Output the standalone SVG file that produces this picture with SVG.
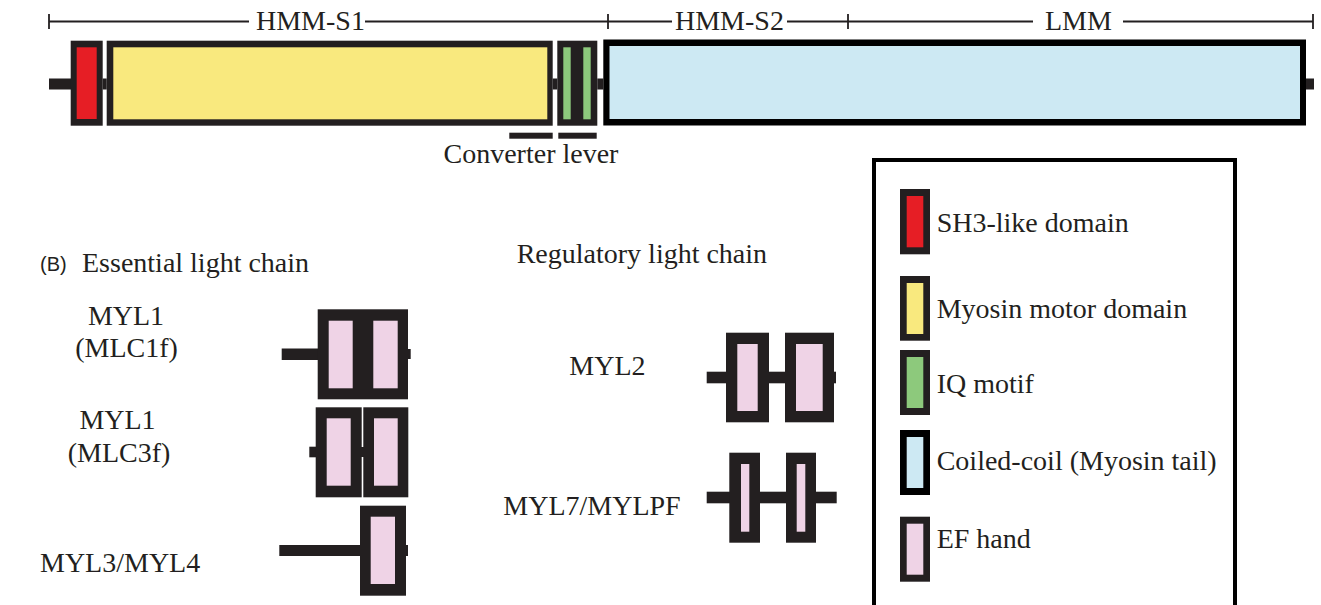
<svg xmlns="http://www.w3.org/2000/svg" width="1321" height="605" viewBox="0 0 1321 605">
<style>
.t{font-family:"Liberation Serif","Times New Roman",serif;font-size:28px;fill:#231f20}
.s{font-family:"Liberation Sans",Arial,sans-serif;font-size:20px;fill:#231f20}
.k{fill:#231f20}
.kb{fill:#000}
.red{fill:#e61e25}
.yel{fill:#f9e97e}
.grn{fill:#8dc97c}
.blu{fill:#cde9f3}
.pnk{fill:#efd3e6}
.sc{stroke:#231f20;stroke-width:1.8;fill:none}
</style>
<rect width="1321" height="605" fill="#fff"/>

<g id="scale">
  <path class="sc" d="M49,21.5H249M365,21.5H672M787,21.5H1033M1123,21.5H1313M49,14V29M608,14V29M848,14V29M1313,14V29"/>
  <text class="t" x="256" y="29.5">HMM-S1</text>
  <text class="t" x="675" y="29.5">HMM-S2</text>
  <text class="t" x="1045" y="29.5">LMM</text>
</g>

<g id="heavy-chain">
  <rect class="k" x="49" y="78.5" width="22" height="11"/>
  <g id="sh3">
    <rect class="k" x="70.7" y="40.7" width="32" height="85"/>
    <rect class="red" x="76.7" y="47.3" width="20" height="71.7"/>
  </g>
  <rect class="k" x="102.7" y="78.5" width="4" height="11"/>
  <g id="motor">
    <rect class="k" x="106.7" y="40.7" width="446" height="85"/>
    <rect class="yel" x="113.3" y="47.3" width="434" height="72"/>
  </g>
  <rect class="k" x="552.7" y="78.5" width="4.6" height="11"/>
  <g id="iq">
    <rect class="k" x="557.3" y="40.7" width="40" height="85"/>
    <rect class="grn" x="563.3" y="47.3" width="7.4" height="72"/>
    <rect class="grn" x="583.3" y="47.3" width="7.4" height="72"/>
  </g>
  <rect class="k" x="597.3" y="78.5" width="6" height="11"/>
  <g id="tail">
    <rect class="kb" x="603.3" y="39.5" width="702.7" height="86"/>
    <rect class="blu" x="609.5" y="46" width="690.5" height="73"/>
  </g>
  <rect class="k" x="1306" y="78.5" width="8" height="11"/>
</g>

<g id="converter-lever">
  <rect class="k" x="509.3" y="132.7" width="43.4" height="6"/>
  <rect class="k" x="558.3" y="132.7" width="38.4" height="6"/>
  <text class="t" x="443.5" y="163">Converter lever</text>
</g>

<g id="essential-labels">
  <text class="s" x="40" y="271">(B)</text>
  <text class="t" x="82" y="271.5">Essential light chain</text>
  <text class="t" x="126" y="325" text-anchor="middle">MYL1</text>
  <text class="t" x="126.5" y="357" text-anchor="middle">(MLC1f)</text>
  <text class="t" x="117.5" y="429" text-anchor="middle">MYL1</text>
  <text class="t" x="119" y="461.5" text-anchor="middle">(MLC3f)</text>
  <text class="t" x="40" y="571.5">MYL3/MYL4</text>
</g>

<g id="mlc1f">
  <rect class="k" x="281.7" y="348.5" width="37" height="11.5"/>
  <rect class="k" x="317.7" y="309.3" width="90.3" height="90"/>
  <rect class="k" x="407" y="349" width="3.7" height="10"/>
  <rect class="pnk" x="328.7" y="320.7" width="24" height="67.6"/>
  <rect class="pnk" x="373.3" y="320.7" width="24.4" height="67.6"/>
</g>

<g id="mlc3f">
  <rect class="k" x="309.3" y="446.7" width="7" height="10.6"/>
  <rect class="k" x="315.7" y="407.3" width="46" height="90"/>
  <rect class="k" x="363.3" y="407.3" width="45" height="90"/>
  <rect class="k" x="361" y="447" width="3" height="10"/>
  <rect class="pnk" x="326.7" y="418.3" width="24" height="67.4"/>
  <rect class="pnk" x="374" y="418.3" width="23.7" height="67.4"/>
</g>

<g id="myl3-myl4">
  <rect class="k" x="279.3" y="545" width="81.7" height="11"/>
  <rect class="k" x="360" y="505.7" width="46" height="90"/>
  <rect class="k" x="405" y="545" width="3" height="11"/>
  <rect class="pnk" x="370.7" y="516.7" width="24.3" height="67.3"/>
</g>

<g id="regulatory-labels">
  <text class="t" x="516.7" y="263.3">Regulatory light chain</text>
  <text class="t" x="569.3" y="375">MYL2</text>
  <text class="t" x="503.3" y="515">MYL7/MYLPF</text>
</g>

<g id="myl2">
  <rect class="k" x="706.7" y="371.7" width="129.3" height="11.6"/>
  <rect class="k" x="726" y="332.7" width="43" height="89.6"/>
  <rect class="k" x="785" y="332.7" width="49" height="89.6"/>
  <rect class="pnk" x="737.3" y="344" width="20.4" height="67"/>
  <rect class="pnk" x="796" y="344" width="26.7" height="67"/>
</g>

<g id="myl7-mylpf">
  <rect class="k" x="706.7" y="491.7" width="130" height="11.6"/>
  <rect class="k" x="729.3" y="452.7" width="30.7" height="90"/>
  <rect class="k" x="786" y="452.7" width="30" height="90"/>
  <rect class="pnk" x="741" y="464" width="8.3" height="67.7"/>
  <rect class="pnk" x="796.7" y="464" width="8.6" height="67.7"/>
</g>

<g id="legend">
  <rect x="874" y="160" width="361" height="460" fill="none" stroke="#000" stroke-width="4"/>
  <g id="legend-sh3">
    <rect class="k" x="900" y="189" width="30" height="65.3"/>
    <rect class="red" x="906.7" y="196" width="16.6" height="51.3"/>
    <text class="t" x="936.7" y="231.7">SH3-like domain</text>
  </g>
  <g id="legend-motor">
    <rect class="k" x="900" y="276" width="30" height="64.7"/>
    <rect class="yel" x="906.7" y="283" width="16.6" height="51"/>
    <text class="t" x="936.7" y="318">Myosin motor domain</text>
  </g>
  <g id="legend-iq">
    <rect class="k" x="900" y="350" width="30" height="65"/>
    <rect class="grn" x="906.7" y="357" width="16.6" height="51"/>
    <text class="t" x="936.7" y="392.7">IQ motif</text>
  </g>
  <g id="legend-coil">
    <rect class="kb" x="900" y="430" width="30" height="65"/>
    <rect class="blu" x="906.7" y="437" width="16.6" height="51"/>
    <text class="t" x="936.7" y="470">Coiled-coil (Myosin tail)</text>
  </g>
  <g id="legend-ef">
    <rect class="k" x="900" y="516.7" width="30" height="65"/>
    <rect class="pnk" x="906.7" y="523.7" width="16.6" height="51"/>
    <text class="t" x="936.7" y="548">EF hand</text>
  </g>
</g>
</svg>
